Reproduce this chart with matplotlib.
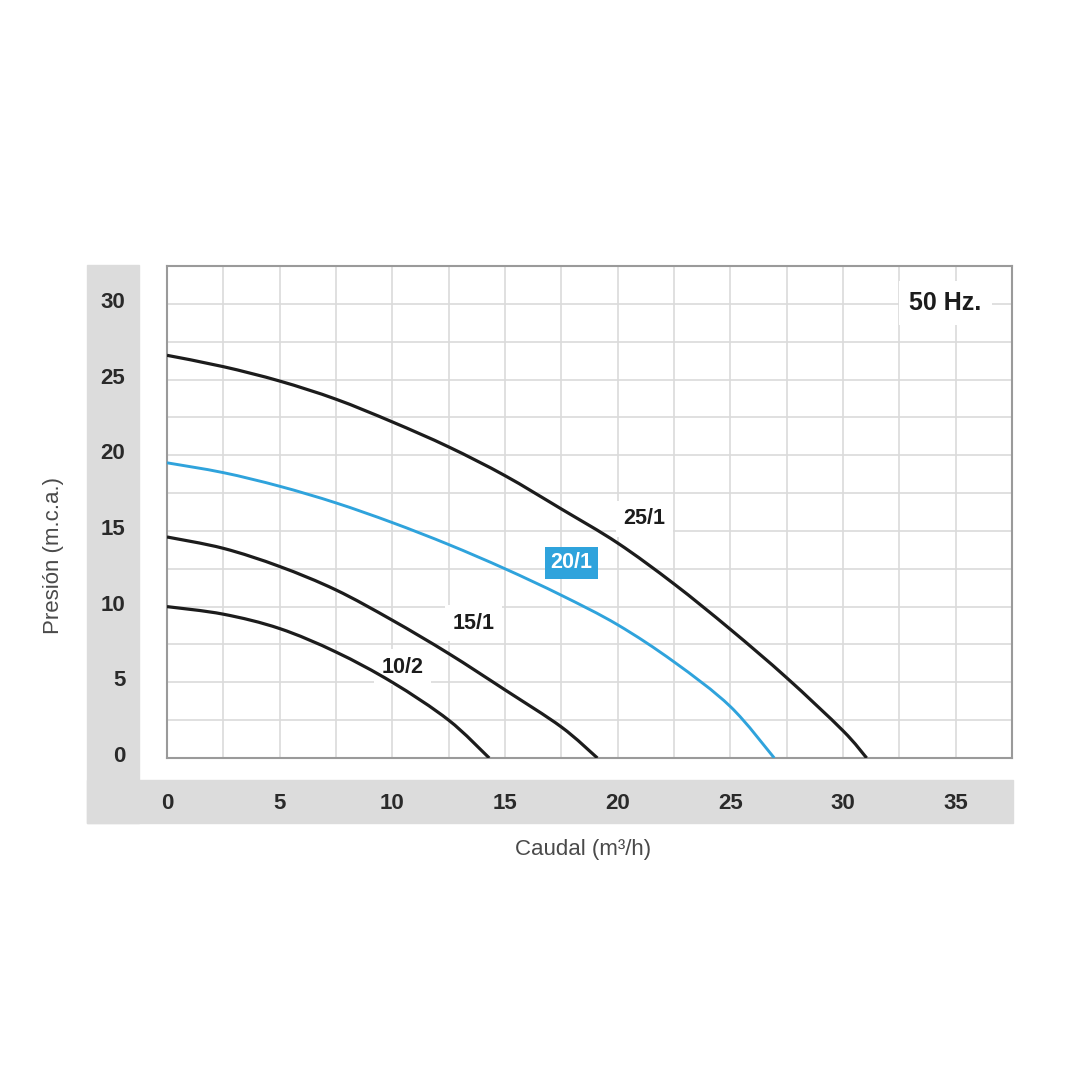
"""
Curvas caudal-presión, bombas 50 Hz.
Saves: out.png
"""
import numpy as np
import matplotlib
matplotlib.use("Agg")
import matplotlib.pyplot as plt
import matplotlib.transforms as mtrans
from matplotlib.patches import Rectangle, PathPatch
from matplotlib.path import Path

# ── data ──────────────────────────────────────────────────────────────────
q_25_1 = [0, 2.5, 5, 7.5, 10, 12.5, 15, 17.5, 20, 22.5, 25, 27.5, 30, 31.05]
h_25_1 = [26.6, 25.85, 24.9, 23.7, 22.2, 20.55, 18.65, 16.45, 14.2, 11.5, 8.5, 5.3, 1.8, 0]

q_20_1 = [0, 2.5, 5, 7.5, 10, 12.5, 15, 17.5, 20, 22.5, 25, 26.95]
h_20_1 = [19.5, 18.85, 17.95, 16.85, 15.55, 14.1, 12.5, 10.75, 8.8, 6.35, 3.4, 0]

q_15_1 = [0, 2.5, 5, 7.5, 10, 12.5, 15, 17.5, 19.1]
h_15_1 = [14.6, 13.85, 12.65, 11.1, 9.1, 6.9, 4.5, 2.05, 0]

q_10_2 = [0, 2.5, 5, 7.5, 10, 12.5, 14.3]
h_10_2 = [10.0, 9.5, 8.55, 7.0, 5.0, 2.5, 0]

curve_names = ["25/1", "20/1", "15/1", "10/2"]
label_pos = {"25/1": (21.2, 15.8), "20/1": (17.95, 12.9),
             "15/1": (13.6, 8.9), "10/2": (10.45, 6.0)}

x_ticks = [0, 5, 10, 15, 20, 25, 30, 35]
y_ticks = [0, 5, 10, 15, 20, 25, 30]

# ── style ──────────────────────────────────────────────────────────────────
plt.rcParams.update({"font.family": ["Liberation Sans", "DejaVu Sans"]})
BLACK = "#1c1c1c"
BLUE = "#2fa3dc"
BAND = "#dcdcdc"
GRID = "#dadada"
TXT = "#2a2a2a"


def smooth_path(xs, ys):
    # Catmull-Rom through the read points, drawn as cubic Bezier segments
    p = np.column_stack([xs, ys]).astype(float)
    verts = [p[0]]
    codes = [Path.MOVETO]
    for i in range(len(p) - 1):
        p0 = p[i - 1] if i > 0 else p[i]
        p3 = p[i + 2] if i + 2 < len(p) else p[i + 1]
        c1 = p[i] + (p[i + 1] - p0) / 6
        c2 = p[i + 1] - (p3 - p[i]) / 6
        verts += [c1, c2, p[i + 1]]
        codes += [Path.CURVE4] * 3
    return Path(verts, codes)


fig = plt.figure(figsize=(10.8, 10.8), dpi=100)
fig.patch.set_facecolor("white")

# grey L-shaped band behind the tick labels
fig.patches.append(Rectangle((87/1080, 1-823/1080), 52/1080, 558/1080,
                             transform=fig.transFigure, color=BAND, zorder=-1))
fig.patches.append(Rectangle((87/1080, 1-823/1080), 926/1080, 43/1080,
                             transform=fig.transFigure, color=BAND, zorder=-1))

ax = fig.add_axes([167/1080, 1-758/1080, 845/1080, 492/1080])
ax.set_xlim(0, 37.5)
ax.set_ylim(0, 32.5)

ax.set_xticks(x_ticks)
ax.set_yticks(y_ticks)
ax.set_xticks(np.arange(0, 37.6, 2.5), minor=True)
ax.set_yticks(np.arange(0, 32.6, 2.5), minor=True)
ax.grid(True, which="both", color=GRID, lw=1.2, zorder=0)
ax.set_axisbelow(True)
ax.tick_params(which="both", length=0)
ax.tick_params(axis="x", pad=25, labelsize=16, labelcolor=TXT)
ax.tick_params(axis="y", pad=30, labelsize=16, labelcolor=TXT)
lift = mtrans.ScaledTranslation(0, 4/100, fig.dpi_scale_trans)
for lab in ax.get_xticklabels() + ax.get_yticklabels():
    lab.set_fontweight("bold")
for lab in ax.get_yticklabels():
    lab.set_transform(lab.get_transform() + lift)
for sp in ax.spines.values():
    sp.set_color("#9a9a9a")
    sp.set_linewidth(1.5)

for xs, ys, col in [(q_25_1, h_25_1, BLACK), (q_20_1, h_20_1, BLUE),
                    (q_15_1, h_15_1, BLACK), (q_10_2, h_10_2, BLACK)]:
    ax.add_patch(PathPatch(smooth_path(xs, ys), fill=False, ec=col,
                           lw=2.3 if col == BLACK else 2.1, zorder=3,
                           capstyle="butt", clip_on=True))

for name in curve_names:
    x, y = label_pos[name]
    if name == "20/1":
        ax.text(x, y, name, ha="center", va="center", fontsize=15.5,
                fontweight="bold", color="white", zorder=4,
                bbox=dict(boxstyle="square,pad=0.25", fc=BLUE, ec="none"))
    else:
        ax.text(x, y, name, ha="center", va="center", fontsize=15.5,
                fontweight="bold", color=BLACK, zorder=2,
                bbox=dict(boxstyle="square,pad=0.35", fc="white", ec="none"))

ax.text(34.55, 30.05, "50 Hz.", ha="center", va="center", fontsize=18,
        fontweight="bold", color=BLACK, zorder=2,
        bbox=dict(boxstyle="square,pad=0.4", fc="white", ec="none"))

fig.text(54/1080, 1-556/1080, "Presión (m.c.a.)", rotation=90,
         ha="center", va="center", fontsize=16, color="#4a4a4a")
fig.text(583/1080, 1-850/1080, "Caudal (m³/h)",
         ha="center", va="center", fontsize=16, color="#4a4a4a")

fig.savefig("out.png", dpi=100)
